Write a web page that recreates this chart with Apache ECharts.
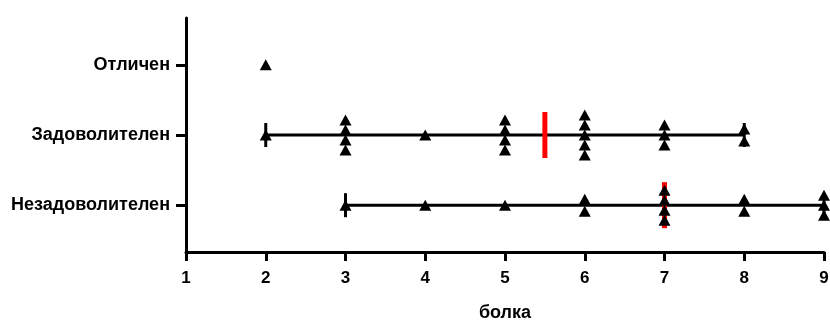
<!DOCTYPE html>
<html>
<head>
<meta charset="utf-8">
<script src="https://cdn.jsdelivr.net/npm/echarts@6/dist/echarts.min.js"></script>
<style>html,body{margin:0;padding:0;background:#fff}#c{width:830px;height:320px}</style>
</head>
<body>
<div id="c"></div>
<script>
const categories = ['Незадоволителен', 'Задоволителен', 'Отличен'];
const scoresNezad = [3, 4, 5, 6, 6, 7, 7, 7, 7, 8, 8, 9, 9, 9];
const scoresZad = [2, 3, 3, 3, 3, 4, 5, 5, 5, 5, 6, 6, 6, 6, 6, 7, 7, 7, 8, 8];
const scoresOtl = [2];
const xTicks = [1, 2, 3, 4, 5, 6, 7, 8, 9];
const xAxisName = 'болка';

const groups = [scoresNezad, scoresZad, scoresOtl];
const FONT = "'Liberation Sans', Arial, sans-serif";

function median(a) {
  const s = a.slice().sort((p, q) => p - q);
  const m = Math.floor(s.length / 2);
  return s.length % 2 ? s[m] : (s[m - 1] + s[m]) / 2;
}

// beeswarm points: vertical pixel offsets for identical values
const pts = [];
groups.forEach((g, gi) => {
  const counts = {};
  g.forEach(v => { counts[v] = (counts[v] || 0) + 1; });
  Object.keys(counts).forEach(k => {
    const n = counts[k];
    const step = n === 2 ? 12 : 10;
    for (let i = 0; i < n; i++) {
      pts.push({ value: [Number(k), gi + 1], symbolOffset: [0, (i - (n - 1) / 2) * step] });
    }
  });
});

const rangeSeries = [];
const caps = [];
const meds = [];
groups.forEach((g, gi) => {
  if (g.length < 2) return;
  const mn = Math.min(...g), mx = Math.max(...g);
  rangeSeries.push({
    type: 'line', data: [[mn, gi + 1], [mx, gi + 1]], symbol: 'none',
    lineStyle: { color: '#000', width: 3 }, silent: true, z: 1, clip: false
  });
  caps.push([mn, gi + 1], [mx, gi + 1]);
  meds.push([median(g), gi + 1]);
});

const chart = echarts.init(document.getElementById('c'), null, { renderer: 'canvas' });
chart.setOption({
  animation: false,
  backgroundColor: '#fff',
  grid: { left: 186, right: 6, top: 18, bottom: 68, containLabel: false, outerBoundsMode: 'none' },
  xAxis: {
    type: 'value', min: xTicks[0], max: xTicks[xTicks.length - 1], interval: 1,
    name: xAxisName, nameLocation: 'middle', nameGap: 52,
    nameTextStyle: { fontSize: 18, fontWeight: 'bold', color: '#000', fontFamily: FONT },
    axisLine: { show: true, lineStyle: { color: '#000', width: 3 } },
    axisTick: { show: true, length: 9, lineStyle: { color: '#000', width: 3 } },
    axisLabel: { fontSize: 17, fontWeight: 'bold', color: '#000', fontFamily: FONT, margin: 18 },
    splitLine: { show: false }
  },
  yAxis: {
    type: 'value', min: 1 / 3, max: 11 / 3,
    axisLine: { show: true, lineStyle: { color: '#000', width: 3 } },
    axisTick: { show: true, length: 10, lineStyle: { color: '#000', width: 3 }, customValues: [1, 2, 3] },
    axisLabel: {
      fontSize: 18, fontWeight: 'bold', color: '#000', fontFamily: FONT, margin: 16,
      customValues: [1, 2, 3],
      formatter: v => categories[Math.round(v) - 1] || ''
    },
    splitLine: { show: false }
  },
  series: [
    ...rangeSeries,
    {
      type: 'scatter', data: caps, symbol: 'rect', symbolSize: [3, 24],
      itemStyle: { color: '#000', opacity: 1 }, z: 2, silent: true, clip: false
    },
    {
      type: 'scatter', data: meds, symbol: 'rect', symbolSize: [5, 46],
      itemStyle: { color: '#ff0000', opacity: 1 }, z: 3, silent: true
    },
    {
      type: 'scatter', data: pts, symbol: 'triangle', symbolSize: [12, 11],
      itemStyle: { color: '#000', opacity: 1 }, z: 4, silent: true, clip: false
    }
  ]
});
</script>
</body>
</html>
